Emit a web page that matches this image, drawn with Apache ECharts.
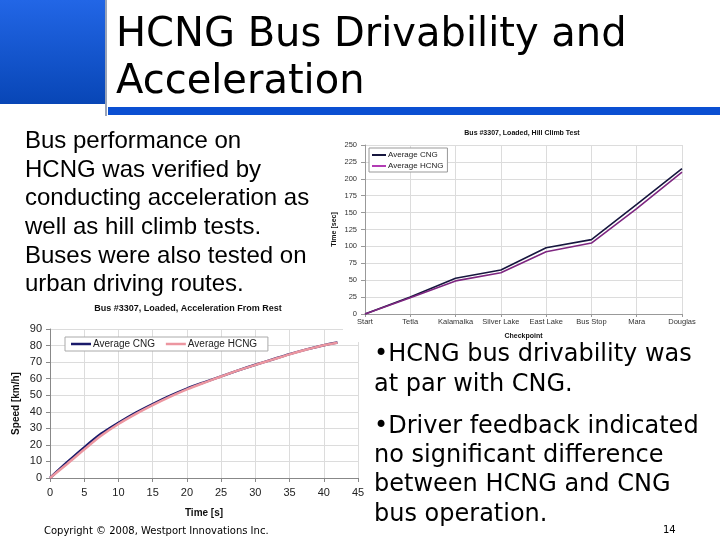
<!DOCTYPE html>
<html>
<head>
<meta charset="utf-8">
<script src="https://cdn.jsdelivr.net/npm/echarts@6/dist/echarts.min.js"></script>
<style>
html,body{margin:0;padding:0;background:#fff;}
#chart{width:720px;height:540px;}
</style>
</head>
<body>
<div id="chart"></div>
<script>
// ---- Data ----
var checkpoints = ['Start', 'Tetla', 'Kalamalka', 'Silver Lake', 'East Lake', 'Bus Stop', 'Mara', 'Douglas'];
var hillCNG  = [0, 25, 53, 65, 98, 110, 162, 215];
var hillHCNG = [0, 24, 49, 61, 92, 105, 156, 210];

var accelTime = [0, 2.5, 5, 7.5, 10, 12.5, 15, 17.5, 20, 22.5, 25, 27.5, 30, 32.5, 35, 37.5, 40, 42];
var accelCNG  = [0, 9.5, 18.5, 26.8, 33.4, 39.4, 44.7, 49.6, 54.0, 57.8, 61.4, 65.0, 68.4, 71.6, 74.8, 77.7, 80.2, 81.8];
var accelHCNG = [0, 8.5, 17.2, 25.6, 32.6, 38.6, 44.0, 49.0, 53.5, 57.5, 61.3, 65.0, 68.3, 71.5, 74.7, 77.6, 80.2, 81.7];

var titleLines = ['HCNG Bus Drivability and', 'Acceleration'];
var leftText = ['Bus performance on', 'HCNG was verified by', 'conducting acceleration as', 'well as hill climb tests.', 'Buses were also tested on', 'urban driving routes.'];
var rightText = ['\u2022HCNG bus drivability was', 'at par with CNG.', '\u2022Driver feedback indicated', 'no significant difference', 'between HCNG and CNG', 'bus operation.'];

function pairs(xs, ys) { return xs.map(function (x, i) { return [x, ys[i]]; }); }

var chart = echarts.init(document.getElementById('chart'), null, {renderer: 'canvas'});

var graphics = [];
// slide decoration
graphics.push({type: 'rect', z: 1, shape: {x: 0, y: 0, width: 105, height: 104},
  style: {fill: new echarts.graphic.LinearGradient(0, 0, 0, 1, [{offset: 0, color: '#2266e6'}, {offset: 1, color: '#0846b6'}])}});
graphics.push({type: 'rect', z: 1, shape: {x: 105, y: 0, width: 2, height: 116}, style: {fill: '#9aa4b8'}});
graphics.push({type: 'rect', z: 1, shape: {x: 108, y: 107, width: 612, height: 8}, style: {fill: '#0b4fd2'}});
// title
var titleCenters = [36, 83];
titleLines.forEach(function (t, i) {
  graphics.push({type: 'text', z: 30, x: 116, y: titleCenters[i],
    style: {text: t, font: '40px "DejaVu Sans"', fill: '#000', textAlign: 'left', textVerticalAlign: 'middle'}});
});
// left paragraph
var leftCenters = [141, 170, 198.5, 227, 256, 284.5];
leftText.forEach(function (t, i) {
  graphics.push({type: 'text', z: 30, x: 25, y: leftCenters[i],
    style: {text: t, font: '24px "Liberation Sans"', fill: '#000', textAlign: 'left', textVerticalAlign: 'middle'}});
});
// right bullets
var rightCenters = [355, 384.5, 427, 456, 485, 514.5];
rightText.forEach(function (t, i) {
  graphics.push({type: 'text', z: 30, x: 374, y: rightCenters[i],
    style: {text: t, font: '24px "DejaVu Sans"', fill: '#000', textAlign: 'left', textVerticalAlign: 'middle'}});
});
// footer
graphics.push({type: 'text', z: 30, x: 44, y: 531,
  style: {text: 'Copyright \u00a9 2008, Westport Innovations Inc.', font: '10px "DejaVu Sans"', fill: '#000', textAlign: 'left', textVerticalAlign: 'middle'}});
graphics.push({type: 'text', z: 30, x: 663, y: 530,
  style: {text: '14', font: '10px "DejaVu Sans"', fill: '#000', textAlign: 'left', textVerticalAlign: 'middle'}});
// white backing of the hill-climb chart image (covers acceleration chart corner)
graphics.push({type: 'rect', z: 15, shape: {x: 343, y: 122, width: 377, height: 220}, style: {fill: '#fff'}});

var gridColor = '#dcdcdc';
var option = {
  animation: false,
  backgroundColor: '#fff',
  graphic: {elements: graphics},
  title: [
    {text: 'Bus #3307, Loaded, Hill Climb Test', left: 522, top: 130, textAlign: 'center', padding: 0, z: 25,
      textStyle: {fontFamily: 'Liberation Sans', fontSize: 7, fontWeight: 'bold', color: '#111'}},
    {text: 'Bus #3307, Loaded, Acceleration From Rest', left: 188, top: 304, textAlign: 'center', padding: 0,
      textStyle: {fontFamily: 'Liberation Sans', fontSize: 9, fontWeight: 'bold', color: '#111'}}
  ],
  legend: [
    {data: ['Average CNG', 'Average HCNG'], orient: 'vertical', left: 369, top: 148, z: 25,
      padding: [3, 4, 2, 3], itemGap: 3, itemWidth: 14, itemHeight: 2, icon: 'rect',
      backgroundColor: '#fff', borderColor: '#999', borderWidth: 1,
      textStyle: {fontFamily: 'Liberation Sans', fontSize: 8, color: '#222', padding: [0, 0, 0, -3]},
      seriesIndex: [0, 1]},
    {data: ['Average CNG ', 'Average HCNG '], orient: 'horizontal', left: 65, top: 337,
      padding: [2, 8, 2, 6], itemGap: 8, itemWidth: 20, itemHeight: 2.5, icon: 'rect',
      backgroundColor: '#fff', borderColor: '#aaa', borderWidth: 1,
      textStyle: {fontFamily: 'Liberation Sans', fontSize: 10, color: '#222', padding: [0, 0, 0, -3]}}
  ],
  grid: [
    {left: 365, right: 38, top: 145, bottom: 226, z: 20},
    {left: 50, right: 362, top: 329, bottom: 62}
  ],
  xAxis: [
    {type: 'category', gridIndex: 0, data: checkpoints, boundaryGap: false, z: 20,
      name: 'Checkpoint', nameLocation: 'middle', nameGap: 19,
      nameTextStyle: {fontFamily: 'Liberation Sans', fontSize: 7, fontWeight: 'bold', color: '#111'},
      axisLine: {lineStyle: {color: '#999'}}, axisTick: {show: true, length: 3, lineStyle: {color: '#999'}},
      axisLabel: {fontFamily: 'Liberation Sans', fontSize: 7.5, color: '#333', margin: 4, interval: 0},
      splitLine: {show: true, lineStyle: {color: gridColor}}},
    {type: 'value', gridIndex: 1, min: 0, max: 45, interval: 5,
      name: 'Time [s]', nameLocation: 'middle', nameGap: 30,
      nameTextStyle: {fontFamily: 'Liberation Sans', fontSize: 10, fontWeight: 'bold', color: '#111'},
      axisLine: {lineStyle: {color: '#888'}}, axisTick: {show: true, length: 4, lineStyle: {color: '#888'}},
      axisLabel: {fontFamily: 'Liberation Sans', fontSize: 11, color: '#222', margin: 9},
      splitLine: {show: true, lineStyle: {color: gridColor}}}
  ],
  yAxis: [
    {type: 'value', gridIndex: 0, min: 0, max: 250, interval: 25, z: 20,
      name: 'Time [sec]', nameLocation: 'middle', nameGap: 27, nameRotate: 90,
      nameTextStyle: {fontFamily: 'Liberation Sans', fontSize: 7, fontWeight: 'bold', color: '#111'},
      axisLine: {show: true, lineStyle: {color: '#999'}}, axisTick: {show: true, length: 4, lineStyle: {color: '#999'}},
      axisLabel: {fontFamily: 'Liberation Sans', fontSize: 7.5, color: '#333', margin: 8},
      splitLine: {show: true, lineStyle: {color: gridColor}}},
    {type: 'value', gridIndex: 1, min: 0, max: 90, interval: 10,
      name: 'Speed [km/h]', nameLocation: 'middle', nameGap: 29, nameRotate: 90,
      nameTextStyle: {fontFamily: 'Liberation Sans', fontSize: 10, fontWeight: 'bold', color: '#111'},
      axisLine: {show: true, lineStyle: {color: '#888'}}, axisTick: {show: true, length: 4, lineStyle: {color: '#888'}},
      axisLabel: {fontFamily: 'Liberation Sans', fontSize: 11, color: '#222', margin: 8},
      splitLine: {show: true, lineStyle: {color: gridColor}}}
  ],
  series: [
    {name: 'Average CNG', type: 'line', xAxisIndex: 0, yAxisIndex: 0, data: hillCNG, z: 22,
      showSymbol: false, symbol: 'none', lineStyle: {color: '#16163e', width: 1.6}, itemStyle: {color: '#16163e'}},
    {name: 'Average HCNG', type: 'line', xAxisIndex: 0, yAxisIndex: 0, data: hillHCNG, z: 22,
      showSymbol: false, symbol: 'none', lineStyle: {color: '#7e2680', width: 1.6}, itemStyle: {color: '#b23cb4'}},
    {name: 'Average CNG ', type: 'line', xAxisIndex: 1, yAxisIndex: 1, data: pairs(accelTime, accelCNG), smooth: 0.3,
      showSymbol: false, symbol: 'none', lineStyle: {color: '#1a1a6a', width: 2.5}, itemStyle: {color: '#1a1a6a'}},
    {name: 'Average HCNG ', type: 'line', xAxisIndex: 1, yAxisIndex: 1, data: pairs(accelTime, accelHCNG), smooth: 0.3,
      showSymbol: false, symbol: 'none', lineStyle: {color: '#ec96a0', width: 2.5}, itemStyle: {color: '#ec96a0'}}
  ]
};
chart.setOption(option);
</script>
</body>
</html>
